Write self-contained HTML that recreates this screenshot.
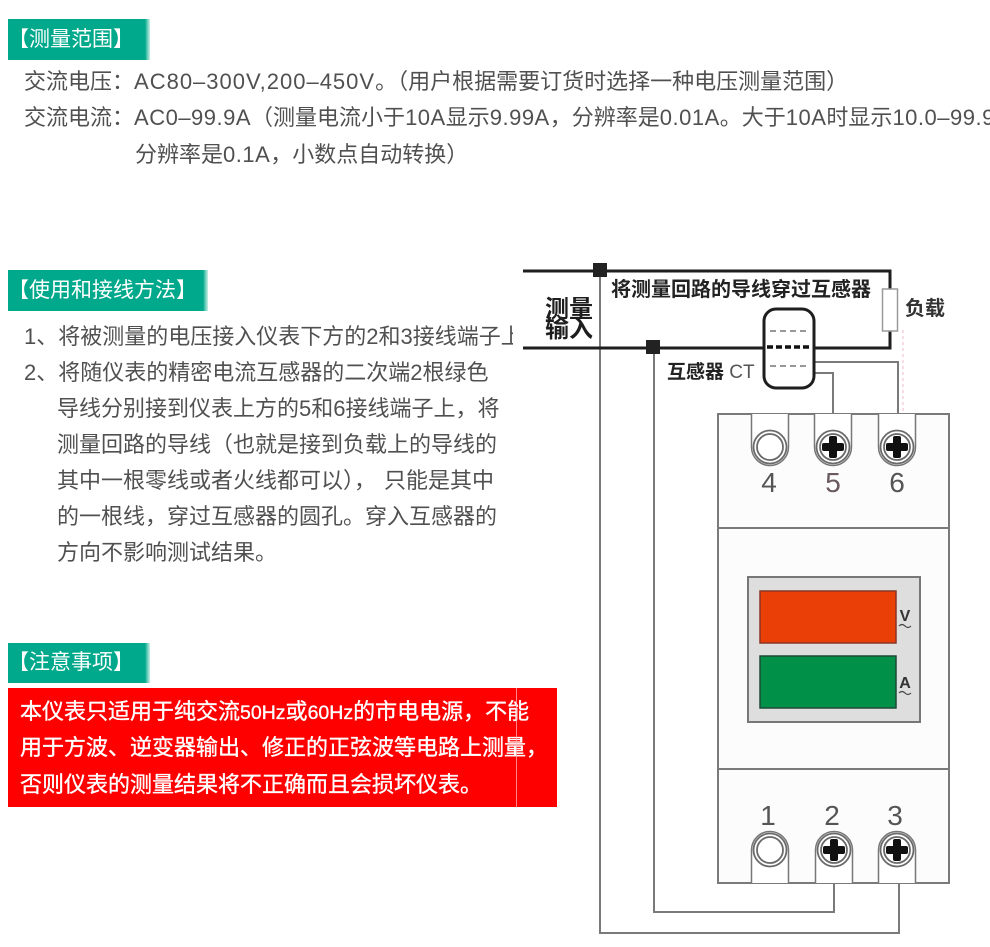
<!DOCTYPE html>
<html><head><meta charset="utf-8">
<style>
html,body{margin:0;padding:0;background:#fff;}
body{width:990px;height:947px;position:relative;overflow:hidden;font-family:"Liberation Sans","Noto Sans CJK SC",sans-serif;}
.hd{position:absolute;left:8px;background:linear-gradient(to right,#00a98b 0,#00a98b calc(100% - 5px),#7fd6c4 calc(100% - 2px),#c8eee6 100%);color:#fff;font-size:21px;line-height:41px;height:41px;padding-left:0;white-space:nowrap;}
.hd span{position:relative;left:0;}
.t{position:absolute;font-size:22px;line-height:36px;color:#505050;white-space:nowrap;}
.w{position:absolute;font-size:22px;line-height:36.5px;color:#fff;white-space:nowrap;-webkit-text-stroke:0.35px #fff;}
.d{position:absolute;white-space:nowrap;color:#1e1e1e;}
.ls{letter-spacing:1px;}
.ls5{letter-spacing:0.5px;}
.hz{font-size:19.5px;}
</style></head><body>

<!-- Section 1 -->
<div class="hd" style="top:19px;width:142px;"><span>【测量范围】</span></div>
<div class="t" style="left:24px;top:64px;">交流电压：<span class="ls">AC80–300V,200–450V</span>。（用户根据需要订货时选择一种电压测量范围）</div>
<div class="t" style="left:24px;top:100px;">交流电流：<span class="ls5">AC0–99.9A</span>（测量电流小于<span class="ls5">10A</span>显示<span class="ls5">9.99A</span>，分辨率是<span class="ls5">0.01A</span>。大于<span class="ls5">10A</span>时显示<span class="ls5">10.0–99.9A</span></div>
<div class="t" style="left:135px;top:137px;">分辨率是<span class="ls5">0.1A</span>，小数点自动转换）</div>

<!-- Section 2 -->
<div class="hd" style="top:270px;width:200px;"><span>【使用和接线方法】</span></div>
<div class="t" style="left:24px;top:319px;width:489px;overflow:hidden;">1、将被测量的电压接入仪表下方的2和3接线端子上</div>
<div class="t" style="left:24px;top:355px;">2、将随仪表的精密电流互感器的二次端2根绿色</div>
<div class="t" style="left:57px;top:391px;">导线分别接到仪表上方的5和6接线端子上，将</div>
<div class="t" style="left:57px;top:427px;">测量回路的导线（也就是接到负载上的导线的</div>
<div class="t" style="left:57px;top:463px;">其中一根零线或者火线都可以）<span style="letter-spacing:8px;">，</span>只能是其中</div>
<div class="t" style="left:57px;top:499px;">的一根线，穿过互感器的圆孔。穿入互感器的</div>
<div class="t" style="left:57px;top:535px;">方向不影响测试结果。</div>

<!-- Section 3 -->
<div class="hd" style="top:643px;width:142px;height:40px;line-height:40px;"><span>【注意事项】</span></div>
<div style="position:absolute;left:8px;top:688px;width:549px;height:119px;background:#fe0000;"></div>
<div class="w" style="left:20px;top:694px;">本仪表只适用于纯交流<span class="hz">50Hz</span>或<span class="hz">60Hz</span>的市电电源，不能</div>
<div class="w" style="left:20px;top:730px;">用于方波、逆变器输出、修正的正弦波等电路上测量，</div>
<div class="w" style="left:20px;top:767px;">否则仪表的测量结果将不正确而且会损坏仪表。</div>
<div style="position:absolute;left:516px;top:688px;width:1px;height:119px;background:rgba(255,190,190,0.7);"></div>

<!-- Diagram -->
<svg width="990" height="947" style="position:absolute;left:0;top:0;" xmlns="http://www.w3.org/2000/svg">
  <!-- faint pink artifacts -->
  <g stroke="#f2b8c8" stroke-width="1" fill="none" stroke-dasharray="3 3">
    <path d="M903,330 V414"/>
    <path d="M856,414 Q848,445 822,470"/>
    <path d="M880,414 V436"/>
  </g>
  <!-- gray wires -->
  <g stroke="#7a7a7a" stroke-width="2" fill="none">
    <path d="M600,277 V933 H899 V883"/>
    <path d="M654,354 V912 H834 V883"/>
    <path d="M812,362 H898 V414"/>
    <path d="M812,373 H833 V414"/>
  </g>
  <!-- black wires -->
  <g stroke="#1e1e1e" stroke-width="3" fill="none">
    <path d="M523,271 H890 V289"/>
    <path d="M890,331 V348 H523"/>
  </g>
  <rect x="882.5" y="289" width="15" height="42" fill="#fff" stroke="#9a9a9a" stroke-width="1.5"/>
  <rect x="593" y="263" width="14" height="14" fill="#222"/>
  <rect x="646" y="340" width="14" height="14" fill="#222"/>
  <!-- CT -->
  <rect x="764" y="309" width="50" height="79" rx="12" fill="#fff" stroke="#1e1e1e" stroke-width="3"/>
  <line x1="770" y1="331" x2="809" y2="331" stroke="#777" stroke-width="1.5" stroke-dasharray="6 4"/>
  <line x1="767" y1="347" x2="811" y2="347" stroke="#111" stroke-width="3.5" stroke-dasharray="6 3"/>
  <line x1="770" y1="366" x2="809" y2="366" stroke="#777" stroke-width="1.5" stroke-dasharray="6 4"/>

  <!-- meter body -->
  <rect x="718" y="414" width="231" height="469" fill="#fcfcfc" stroke="#7a7a7a" stroke-width="2"/>
  <line x1="718" y1="528" x2="949" y2="528" stroke="#7a7a7a" stroke-width="2"/>
  <line x1="718" y1="769" x2="949" y2="769" stroke="#7a7a7a" stroke-width="2"/>

  <!-- terminal slots -->
  <g stroke="#777" stroke-width="1.5" fill="#fff">
    <path d="M751.5,414 V447 A18.5,18.5 0 0 0 788.5,447 V414"/>
    <path d="M814.5,414 V447 A18.5,18.5 0 0 0 851.5,447 V414"/>
    <path d="M878.5,414 V447 A18.5,18.5 0 0 0 915.5,447 V414"/>
    <path d="M751.5,883 V850 A18.5,18.5 0 0 1 788.5,850 V883"/>
    <path d="M815.5,883 V850 A18.5,18.5 0 0 1 852.5,850 V883"/>
    <path d="M878.5,883 V850 A18.5,18.5 0 0 1 915.5,850 V883"/>
  </g>
  <g stroke="#6a6a6a" stroke-width="1.8" fill="#fff">
    <circle cx="770" cy="447" r="16.5"/><circle cx="770" cy="447" r="13"/>
    <circle cx="833" cy="447" r="16.5"/><circle cx="833" cy="447" r="13"/>
    <circle cx="897" cy="447" r="16.5"/><circle cx="897" cy="447" r="13"/>
    <circle cx="770" cy="850" r="16.5"/><circle cx="770" cy="850" r="13"/>
    <circle cx="834" cy="850" r="16.5"/><circle cx="834" cy="850" r="13"/>
    <circle cx="897" cy="850" r="16.5"/><circle cx="897" cy="850" r="13"/>
  </g>
  <!-- screw crosses -->
  <g fill="#111">
    <rect x="822" y="443" width="22" height="8" rx="2"/><rect x="829" y="436" width="8" height="22" rx="2"/>
    <rect x="886" y="443" width="22" height="8" rx="2"/><rect x="893" y="436" width="8" height="22" rx="2"/>
    <rect x="823" y="846" width="22" height="8" rx="2"/><rect x="830" y="839" width="8" height="22" rx="2"/>
    <rect x="886" y="846" width="22" height="8" rx="2"/><rect x="893" y="839" width="8" height="22" rx="2"/>
  </g>
  <g font-family="Liberation Sans, sans-serif" font-size="28" fill="#555" text-anchor="middle">
    <text x="769" y="492">4</text>
    <text x="833" y="492" fill="#6a5a60">5</text>
    <text x="897" y="492">6</text>
    <text x="768" y="825">1</text>
    <text x="832" y="825">2</text>
    <text x="895" y="825">3</text>
  </g>

  <!-- display panel -->
  <rect x="748" y="577" width="172" height="145" fill="#dedede" stroke="#777" stroke-width="2"/>
  <rect x="760" y="591" width="136" height="52" fill="#ea4008" stroke="#8a3526" stroke-width="1.5"/>
  <rect x="760" y="656" width="136" height="52" fill="#009048" stroke="#1e4a35" stroke-width="1.5"/>
  <g font-family="Liberation Sans, sans-serif" font-weight="bold" fill="#333" font-size="16" text-anchor="middle">
    <text x="905" y="621">V</text>
    <text x="905" y="688">A</text>
  </g>
  <g stroke="#444" stroke-width="1.2" fill="none">
    <path d="M899,626 q3,-3 6,0 t6,0"/>
    <path d="M899,693 q3,-3 6,0 t6,0"/>
  </g>
</svg>

<div class="d" style="left:545px;top:300px;font-size:24px;line-height:20px;font-weight:bold;">测量<br>输入</div>
<div class="d" style="left:611px;top:280px;font-size:20px;line-height:20px;font-weight:bold;color:#222;">将测量回路的导线穿过互感器</div>
<div class="d" style="left:905px;top:299px;font-size:20px;line-height:20px;font-weight:bold;color:#333;">负载</div>
<div class="d" style="left:667px;top:363px;font-size:19px;line-height:20px;font-weight:bold;color:#222;">互感器<span style="font-weight:normal;color:#555;"> CT</span></div>

</body></html>
